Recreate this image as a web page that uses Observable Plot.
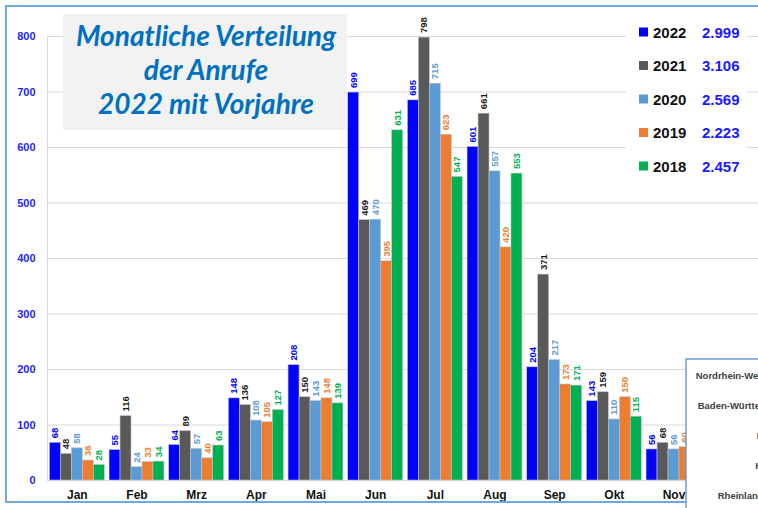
<!DOCTYPE html>
<html>
<head>
<meta charset="utf-8">
<script src="https://cdn.jsdelivr.net/npm/d3@7"></script>
<script src="https://cdn.jsdelivr.net/npm/@observablehq/plot@0.6"></script>
<style>
  html, body { margin: 0; padding: 0; background: #fff; overflow: hidden; }
  #wrap { position: relative; width: 758px; height: 508px; overflow: hidden; }
  #wrap > svg { position: absolute; left: 0; top: 0; }
</style>
</head>
<body>
<div id="wrap"></div>
<script>
// ---- data ----
const months = ["Jan","Feb","Mrz","Apr","Mai","Jun","Jul","Aug","Sep","Okt","Nov","Dez"];
const years = ["2022","2021","2020","2019","2018"];
const totals = ["2.999","3.106","2.569","2.223","2.457"];
const v2022 = [68, 55, 64, 148, 208, 699, 685, 601, 204, 143, 56];
const v2021 = [48, 116, 89, 136, 150, 469, 798, 661, 371, 159, 68];
const v2020 = [58, 24, 57, 108, 143, 470, 715, 557, 217, 110, 56];
const v2019 = [36, 33, 40, 105, 148, 395, 623, 420, 173, 150, 60];
const v2018 = [28, 34, 63, 127, 139, 631, 547, 553, 171, 115];
const series = [v2022, v2021, v2020, v2019, v2018];
const yTicks = [0, 100, 200, 300, 400, 500, 600, 700, 800];
const titleLines = ["Monatliche Verteilung", "der Anrufe", "2022 mit Vorjahre"];
const states = ["Nordrhein-Westfalen", "Baden-Württemberg", "Bayern", "Hessen", "Rheinland-Pfalz"];

// ---- styles ----
const barColors = ["#0000ff", "#595959", "#5b9bd5", "#ed7d31", "#00b050"];
const labelColors = ["#0000ff", "#1a1a1a", "#5b9bd5", "#ed7d31", "#00b050"];
const font = "'Liberation Sans', Arial, sans-serif";

const W = 758, H = 508;
const mL = 47, mR = -5, mT = 36, mB = 28;
const padIn = 0.08, padOut = 0.04;
const step = (W - mL - mR) / (months.length - padIn + 2 * padOut);
const bandW = step * (1 - padIn);
const bw = bandW / years.length;

const marks = [
  Plot.gridY(yTicks, {stroke: "#d9d9d9", strokeOpacity: 1}),
  Plot.frame({anchor: "left", stroke: "#d9d9d9"}),
];
series.forEach((vals, k) => {
  const rows = vals.map((v, i) => ({month: months[i], value: v}));
  marks.push(Plot.barY(rows, {
    x: "month", y: "value", fill: barColors[k],
    stroke: "#c4c4c4", strokeWidth: 0.6,
    insetLeft: k * bw, insetRight: (years.length - 1 - k) * bw
  }));
  marks.push(Plot.text(rows, {
    x: "month", y: "value", text: d => String(d.value),
    rotate: -90, textAnchor: "start",
    dx: (k - (years.length - 1) / 2) * bw, dy: -4.5,
    fill: labelColors[k], fontSize: 9.5, fontWeight: "bold"
  }));
});
marks.push(
  Plot.axisY({ticks: yTicks, tickSize: 0, tickPadding: 12, fill: "#1f1fff", fontWeight: "bold", fontSize: 11, label: null}),
  Plot.axisX({ticks: months.slice(0, 11), tickSize: 0, tickPadding: 10, fill: "#111", fontWeight: "bold", fontSize: 12, label: null})
);

const chart = Plot.plot({
  width: W, height: H,
  marginLeft: mL, marginRight: mR, marginTop: mT, marginBottom: mB,
  style: {fontFamily: font, background: "transparent"},
  x: {domain: months, paddingInner: padIn, paddingOuter: padOut, round: false, label: null},
  y: {domain: [0, 800], label: null},
  marks
});
const wrap = document.getElementById("wrap");
wrap.appendChild(chart);

// ---- overlays: frame, title box, legend, side panel ----
const ov = d3.select(wrap).append("svg")
  .attr("width", W).attr("height", H)
  .style("font-family", font);

ov.append("rect").attr("x", 6).attr("y", 6).attr("width", 800).attr("height", 496)
  .attr("fill", "none").attr("stroke", "#6fa8dc").attr("stroke-width", 2);

ov.append("rect").attr("x", 63).attr("y", 14).attr("width", 284).attr("height", 116)
  .attr("fill", "#f2f2f2");
titleLines.forEach((t, i) => {
  ov.append("text").attr("x", 206).attr("y", 46 + i * 34)
    .attr("text-anchor", "middle")
    .attr("font-family", "Lato, 'Open Sans', sans-serif")
    .attr("font-style", "italic").attr("font-weight", "bold")
    .attr("font-size", 28).attr("fill", "#0070c0").text(t);
});

ov.append("rect").attr("x", 626).attr("y", 12).attr("width", 121).attr("height", 172).attr("fill", "#fff");
years.forEach((y, i) => {
  const cy = 32 + i * 33.5;
  ov.append("rect").attr("x", 639).attr("y", cy - 4.5).attr("width", 9).attr("height", 9)
    .attr("fill", barColors[i]);
  ov.append("text").attr("x", 653).attr("y", cy + 5.5)
    .attr("font-size", 15).attr("font-weight", "bold").attr("fill", "#111").text(y);
  ov.append("text").attr("x", 702).attr("y", cy + 5.5)
    .attr("font-size", 15).attr("font-weight", "bold").attr("fill", "#1a1aff").text(totals[i]);
});

ov.append("rect").attr("x", 686).attr("y", 359).attr("width", 200).attr("height", 200)
  .attr("fill", "#fff").attr("stroke", "#6a9fd8").attr("stroke-width", 1.5);
states.forEach((s, i) => {
  ov.append("text").attr("x", 789).attr("y", 378.5 + i * 30)
    .attr("text-anchor", "end").attr("font-size", 9.5).attr("font-weight", "bold")
    .attr("fill", "#404040").text(s);
});
</script>
</body>
</html>
